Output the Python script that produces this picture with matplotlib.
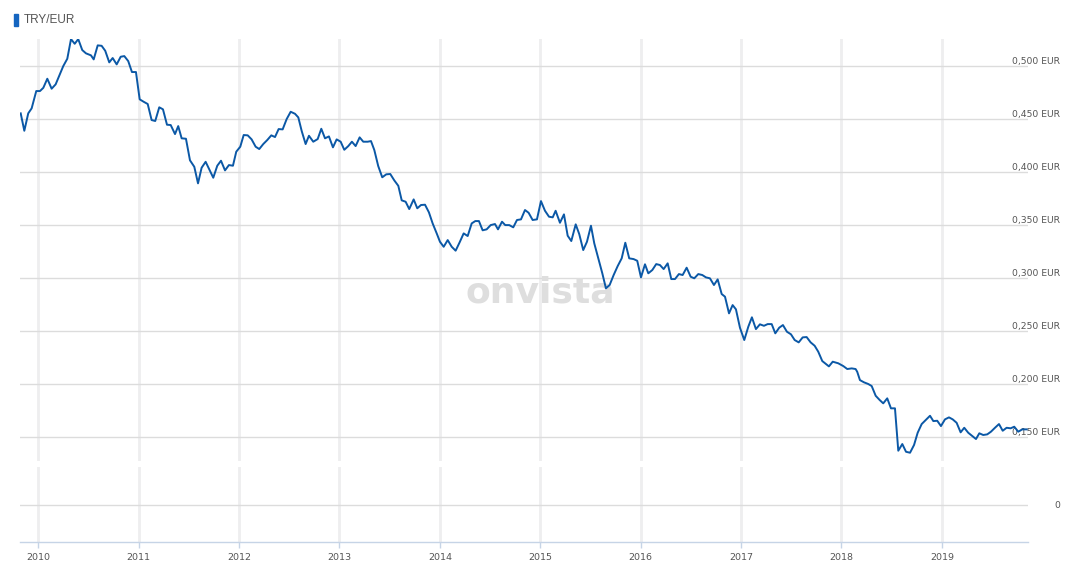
import matplotlib
matplotlib.use('Agg')
import matplotlib.pyplot as plt
from matplotlib.patches import Rectangle

# TRY/EUR rate, decimal year vs EUR
years = [
    2009.825, 2009.861, 2009.900, 2009.934, 2009.980, 2010.017, 2010.050, 2010.090, 2010.133, 2010.173,
    2010.209, 2010.249, 2010.289, 2010.326, 2010.363, 2010.398, 2010.438, 2010.475, 2010.525, 2010.552,
    2010.592, 2010.631, 2010.667, 2010.707, 2010.741, 2010.781, 2010.821, 2010.857, 2010.896, 2010.933,
    2010.973, 2011.010, 2011.050, 2011.090, 2011.129, 2011.165, 2011.205, 2011.242, 2011.282, 2011.319,
    2011.362, 2011.394, 2011.428, 2011.471, 2011.511, 2011.554, 2011.591, 2011.627, 2011.667, 2011.743,
    2011.783, 2011.820, 2011.860, 2011.899, 2011.939, 2011.972, 2012.012, 2012.046, 2012.086, 2012.125,
    2012.165, 2012.201, 2012.241, 2012.281, 2012.321, 2012.358, 2012.394, 2012.434, 2012.474, 2012.514,
    2012.557, 2012.590, 2012.624, 2012.663, 2012.696, 2012.739, 2012.783, 2012.819, 2012.856, 2012.895,
    2012.935, 2012.972, 2013.012, 2013.048, 2013.088, 2013.124, 2013.161, 2013.201, 2013.237, 2013.281,
    2013.314, 2013.347, 2013.386, 2013.426, 2013.466, 2013.506, 2013.546, 2013.586, 2013.620, 2013.659,
    2013.695, 2013.739, 2013.775, 2013.812, 2013.852, 2013.891, 2013.928, 2013.971, 2014.001, 2014.038,
    2014.078, 2014.118, 2014.157, 2014.197, 2014.237, 2014.277, 2014.317, 2014.353, 2014.389, 2014.426,
    2014.466, 2014.506, 2014.549, 2014.579, 2014.619, 2014.651, 2014.691, 2014.731, 2014.768, 2014.808,
    2014.848, 2014.884, 2014.924, 2014.967, 2015.007, 2015.047, 2015.087, 2015.124, 2015.153, 2015.196,
    2015.236, 2015.273, 2015.309, 2015.353, 2015.388, 2015.428, 2015.465, 2015.505, 2015.538, 2015.578,
    2015.618, 2015.654, 2015.691, 2015.731, 2015.771, 2015.811, 2015.847, 2015.886, 2015.930, 2015.966,
    2016.003, 2016.043, 2016.076, 2016.116, 2016.155, 2016.192, 2016.229, 2016.269, 2016.305, 2016.342,
    2016.381, 2016.418, 2016.458, 2016.498, 2016.534, 2016.574, 2016.614, 2016.650, 2016.690, 2016.730,
    2016.767, 2016.807, 2016.840, 2016.880, 2016.916, 2016.949, 2016.989, 2017.032, 2017.072, 2017.108,
    2017.148, 2017.188, 2017.228, 2017.265, 2017.305, 2017.341, 2017.380, 2017.417, 2017.457, 2017.497,
    2017.534, 2017.574, 2017.614, 2017.653, 2017.693, 2017.733, 2017.769, 2017.809, 2017.845, 2017.875,
    2017.913, 2017.968, 2018.018, 2018.058, 2018.102, 2018.141, 2018.157, 2018.184, 2018.224, 2018.267,
    2018.301, 2018.341, 2018.381, 2018.416, 2018.456, 2018.493, 2018.533, 2018.566, 2018.606, 2018.643,
    2018.683, 2018.723, 2018.759, 2018.799, 2018.839, 2018.882, 2018.915, 2018.954, 2018.991, 2019.031,
    2019.071, 2019.108, 2019.147, 2019.187, 2019.223, 2019.263, 2019.303, 2019.340, 2019.373, 2019.412,
    2019.452, 2019.489, 2019.529, 2019.569, 2019.606, 2019.645, 2019.685, 2019.721, 2019.761, 2019.801,
    2019.845,
]
rates = [
    0.4550, 0.4386, 0.4550, 0.4597, 0.4760, 0.4760, 0.4790, 0.4876, 0.4782, 0.4823,
    0.4904, 0.4995, 0.5064, 0.5249, 0.5205, 0.5249, 0.5146, 0.5115, 0.5096, 0.5058,
    0.5190, 0.5186, 0.5139, 0.5030, 0.5071, 0.5011, 0.5083, 0.5089, 0.5042, 0.4939,
    0.4939, 0.4682, 0.4659, 0.4638, 0.4487, 0.4478, 0.4607, 0.4588, 0.4443, 0.4440,
    0.4355, 0.4430, 0.4315, 0.4311, 0.4108, 0.4047, 0.3891, 0.4038, 0.4094, 0.3944,
    0.4057, 0.4104, 0.4013, 0.4063, 0.4057, 0.4189, 0.4236, 0.4346, 0.4343, 0.4305,
    0.4236, 0.4214, 0.4261, 0.4299, 0.4343, 0.4327, 0.4402, 0.4399, 0.4496, 0.4565,
    0.4546, 0.4512, 0.4383, 0.4261, 0.4339, 0.4283, 0.4308, 0.4405, 0.4315, 0.4333,
    0.4230, 0.4305, 0.4283, 0.4207, 0.4242, 0.4283, 0.4242, 0.4324, 0.4283, 0.4283,
    0.4289, 0.4205, 0.4054, 0.3948, 0.3976, 0.3979, 0.3919, 0.3868, 0.3731, 0.3718,
    0.3649, 0.3740, 0.3656, 0.3687, 0.3690, 0.3618, 0.3514, 0.3414, 0.3341, 0.3294,
    0.3357, 0.3294, 0.3257, 0.3336, 0.3420, 0.3395, 0.3514, 0.3536, 0.3536, 0.3449,
    0.3458, 0.3498, 0.3508, 0.3458, 0.3530, 0.3498, 0.3498, 0.3477, 0.3546, 0.3552,
    0.3640, 0.3614, 0.3546, 0.3552, 0.3724, 0.3633, 0.3577, 0.3571, 0.3633, 0.3520,
    0.3599, 0.3398, 0.3348, 0.3505, 0.3414, 0.3263, 0.3341, 0.3492, 0.3326, 0.3185,
    0.3044, 0.2903, 0.2934, 0.3028, 0.3112, 0.3185, 0.3332, 0.3185, 0.3178, 0.3162,
    0.3006, 0.3129, 0.3044, 0.3075, 0.3131, 0.3122, 0.3084, 0.3138, 0.2990, 0.2990,
    0.3037, 0.3028, 0.3097, 0.3012, 0.2997, 0.3037, 0.3028, 0.3006, 0.2997, 0.2934,
    0.2987, 0.2849, 0.2824, 0.2667, 0.2745, 0.2705, 0.2532, 0.2416, 0.2541, 0.2630,
    0.2519, 0.2564, 0.2550, 0.2566, 0.2566, 0.2479, 0.2532, 0.2557, 0.2494, 0.2470,
    0.2416, 0.2394, 0.2441, 0.2444, 0.2394, 0.2362, 0.2306, 0.2218, 0.2190, 0.2168,
    0.2212, 0.2197, 0.2171, 0.2143, 0.2149, 0.2143, 0.2117, 0.2039, 0.2018, 0.2002,
    0.1983, 0.1891, 0.1851, 0.1820, 0.1867, 0.1773, 0.1773, 0.1374, 0.1437, 0.1364,
    0.1355, 0.1428, 0.1543, 0.1625, 0.1663, 0.1703, 0.1653, 0.1656, 0.1606, 0.1669,
    0.1688, 0.1669, 0.1637, 0.1547, 0.1590, 0.1543, 0.1512, 0.1484, 0.1538, 0.1522,
    0.1528, 0.1553, 0.1590, 0.1625, 0.1562, 0.1590, 0.1585, 0.1600, 0.1553, 0.1575,
    0.1575,
]

year_ticks = list(range(2010, 2020))
year_labels = [str(y) for y in year_ticks]
rate_ticks = [0.15, 0.20, 0.25, 0.30, 0.35, 0.40, 0.45, 0.50]
rate_labels = ['0,150 EUR', '0,200 EUR', '0,250 EUR', '0,300 EUR',
               '0,350 EUR', '0,400 EUR', '0,450 EUR', '0,500 EUR']

W, H = 1074, 569
LINE = '#0b58a6'
TXT = '#555555'
HGRID = '#dcdcdc'
VGRID = '#eeeeef'
AXIS = '#c6d4e6'
XLIM = (2009.818, 2019.858)


def fig_rect(left, top, right, bottom):
    return [left / W, 1 - bottom / H, (right - left) / W, (bottom - top) / H]


fig = plt.figure(figsize=(W / 100, H / 100), dpi=100)

# main panel
ax = fig.add_axes(fig_rect(20, 39, 1028, 460.7))
ax.plot(years, rates, color=LINE, linewidth=1.4, zorder=3, solid_joinstyle='round')
ax.set_xlim(*XLIM)
ax.set_ylim(0.128, 0.525)
ax.set_xticks(year_ticks)
ax.set_yticks(rate_ticks)
ax.set_yticklabels(rate_labels)
ax.tick_params(axis='x', length=0, labelbottom=False)
ax.tick_params(axis='y', length=0, left=False, labelleft=False, right=False,
               labelright=True, pad=23, labelsize=6.7, labelcolor=TXT)
for lab in ax.get_yticklabels():
    lab.set_horizontalalignment('right')
    lab.set_verticalalignment('bottom')
ax.grid(axis='y', color=HGRID, linewidth=1.0, zorder=1)
ax.grid(axis='x', color=VGRID, linewidth=2.0, zorder=1)
ax.set_axisbelow(True)
for s in ax.spines.values():
    s.set_visible(False)
ax.text(0.516, 0.374, 'onvista', transform=ax.transAxes, ha='center', va='baseline',
        fontsize=26, fontweight='bold', color='#dedede', zorder=2)

# lower panel (empty)
ax2 = fig.add_axes(fig_rect(20, 466.7, 1028, 542.3))
ax2.set_xlim(*XLIM)
ax2.set_ylim(-1, 1)
ax2.set_xticks(year_ticks)
ax2.set_xticklabels(year_labels)
ax2.set_yticks([0])
ax2.set_yticklabels(['0'])
ax2.tick_params(axis='x', length=4, color=AXIS, width=1, pad=4, labelsize=6.8, labelcolor=TXT)
ax2.tick_params(axis='y', length=0, left=False, labelleft=False, labelright=True,
                pad=23, labelsize=6.7, labelcolor=TXT)
for lab in ax2.get_yticklabels():
    lab.set_horizontalalignment('right')
ax2.grid(axis='y', color=HGRID, linewidth=1.0)
ax2.grid(axis='x', color=VGRID, linewidth=2.0)
ax2.set_axisbelow(True)
for name, s in ax2.spines.items():
    s.set_visible(name == 'bottom')
ax2.spines['bottom'].set_color(AXIS)
ax2.spines['bottom'].set_linewidth(1.0)

# title with small marker bar
fig.patches.append(Rectangle((14 / W, 1 - 26 / H), 4 / W, 12 / H,
                             transform=fig.transFigure, color='#1565c0'))
fig.text(24 / W, 1 - 20 / H, 'TRY/EUR', ha='left', va='center', fontsize=8.5,
         color=TXT, family='Liberation Sans')

fig.savefig('out.png', dpi=100)
